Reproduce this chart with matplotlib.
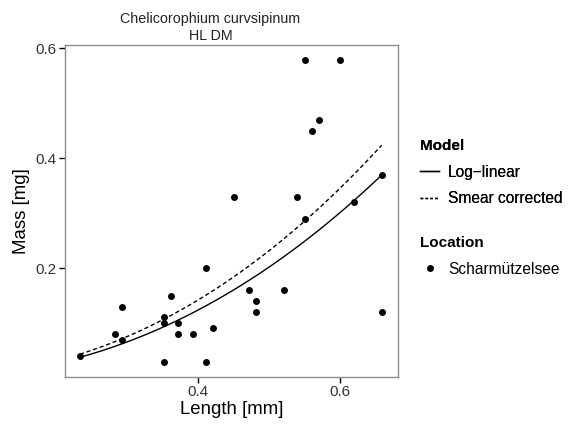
import numpy as np
import matplotlib
matplotlib.use("Agg")
import matplotlib.pyplot as plt
from matplotlib.lines import Line2D

plt.rcParams["font.family"]=["Liberation Sans","DejaVu Sans"]

# body length [mm] and dry mass [mg]
length=[0.233,0.282,0.292,0.292,0.352,0.352,0.352,0.362,0.372,0.372,
	0.392,0.411,0.411,0.421,0.451,0.471,0.481,0.481,0.521,0.540,
	0.551,0.551,0.560,0.570,0.600,0.620,0.659,0.659]
mass=[0.040,0.080,0.070,0.130,0.111,0.101,0.030,0.150,0.100,0.080,
	0.080,0.200,0.030,0.091,0.330,0.160,0.140,0.120,0.160,0.330,
	0.290,0.579,0.450,0.470,0.579,0.320,0.370,0.120]

title_lines=["Chelicorophium curvsipinum","HL DM"]
location="Scharmützelsee"
model_labels=["Log\u2212linear","Smear corrected"]

length=np.array(length)
mass=np.array(mass)

# log-linear fit, log(M)=log(a)+b*log(L), plus smearing factor
b,loga=np.polyfit(np.log(length),np.log(mass),1)
resid=np.log(mass)-(loga+b*np.log(length))
smear=np.mean(np.exp(resid))

xs=np.linspace(length.min(),length.max(),200)
fit=np.exp(loga)*xs**b

fig=plt.figure(figsize=(5.69,4.26),dpi=100)
ax=fig.add_axes([65/569,1-377/426,333/569,332/426])

ax.scatter(length,mass,s=25,color="black",zorder=3,linewidths=0)
ax.plot(xs,fit,color="black",lw=1.0)
ax.plot(xs,fit*smear,color="black",lw=1.0,ls=(0,(3,2)))

ax.set_xlim(0.212,0.682)
ax.set_ylim(0.0024,0.606)
ax.set_xticks([0.4,0.6])
ax.set_yticks([0.2,0.4,0.6])
ax.set_xticklabels(["0.4","0.6"])
ax.set_yticklabels(["0.2","0.4","0.6"])
ax.tick_params(length=4,width=1,color="black",labelsize=11,labelcolor="#333333",pad=2)
for sp in ax.spines.values():
	sp.set_color("#8c8c8c")
	sp.set_linewidth(1)

ax.set_xlabel("Length [mm]",fontsize=13.4,labelpad=1)
ax.set_ylabel("Mass [mg]",fontsize=13.4,labelpad=4)
fig.text(210.5/569,1-23.5/426,title_lines[0],fontsize=10.3,ha="center",va="baseline",color="#222222")
fig.text(210.5/569,1-40/426,title_lines[1],fontsize=10.3,ha="center",va="baseline",color="#222222")

h_model=[Line2D([],[],color="black",lw=1.0),Line2D([],[],color="black",lw=1.0,ls=(0,(2,1.5)))]
leg1=fig.legend(h_model,model_labels,title="Model",loc="upper left",bbox_to_anchor=(406/569,1-125/426),
	frameon=False,fontsize=11.2,title_fontproperties={"weight":"bold","size":11},
	handlelength=1.25,handletextpad=0.55,labelspacing=0.75,alignment="left")
h_loc=[Line2D([],[],color="black",marker="o",ls="",markersize=4)]
leg2=fig.legend(h_loc,[location],title="Location",loc="upper left",bbox_to_anchor=(406/569,1-222/426),
	frameon=False,fontsize=11.2,title_fontproperties={"weight":"bold","size":11},
	handlelength=1.25,handletextpad=0.55,labelspacing=0.75,alignment="left")
fig.add_artist(leg1)

fig.savefig("out.png",dpi=100)
